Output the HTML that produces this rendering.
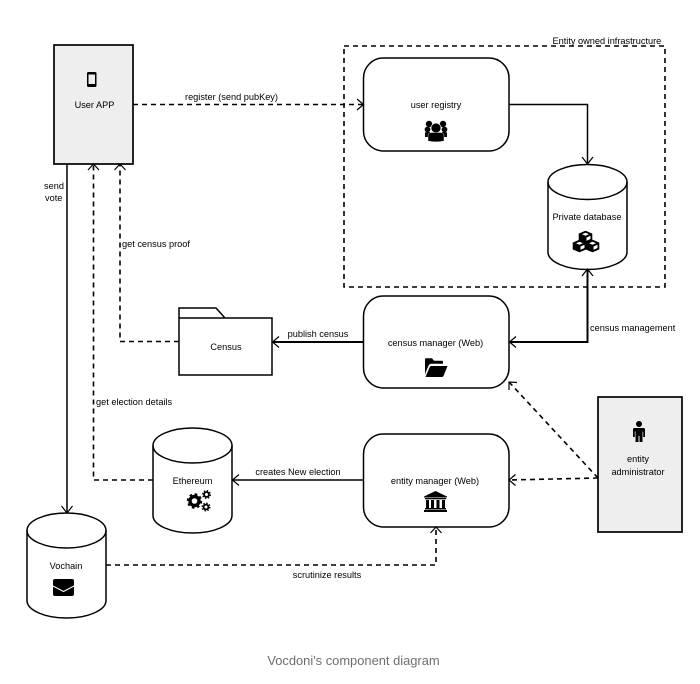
<!DOCTYPE html>
<html>
<head>
<meta charset="utf-8">
<style>
html,body{margin:0;padding:0;background:#fff;width:700px;height:684px;overflow:hidden}
svg{display:block}
text{font-family:"Liberation Sans",sans-serif;font-size:9.2px;fill:#000}
.m{text-anchor:middle}
.b{fill:none;stroke:#000;stroke-width:1.500}
.n{fill:#fff;stroke:#000;stroke-width:1.500}
.g{fill:#eee;stroke:#000;stroke-width:1.700}
.d{fill:none;stroke:#000;stroke-width:1.600;stroke-dasharray:5 4}
.a{fill:none;stroke:#000;stroke-width:1.200}
</style>
</head>
<body>
<svg width="700" height="684" viewBox="0 0 700 684" xmlns="http://www.w3.org/2000/svg">
<rect width="700" height="684" fill="#fff"/>

<!-- Boundary -->
<rect x="344" y="46" width="321" height="241" class="d"/>
<text x="552.500" y="44">Entity owned infrastructure</text>

<!-- Boxes -->
<rect x="54" y="45" width="79" height="119" class="g"/>
<rect x="598" y="397" width="84" height="135" class="g"/>
<rect x="363.500" y="58" width="145.500" height="93" rx="20" class="n"/>
<rect x="363.500" y="296" width="145.500" height="92" rx="20" class="n"/>
<rect x="363.500" y="434" width="145.500" height="93" rx="20" class="n"/>

<!-- Cylinders -->
<path class="n" d="M548 182a39.500 17.500 0 0 1 79 0v70a39.500 17.500 0 0 1-79 0z"/>
<path class="b" d="M548 182a39.500 17.500 0 0 0 79 0"/>
<path class="n" d="M153 445.500a39.500 17.500 0 0 1 79 0v70a39.500 17.500 0 0 1-79 0z"/>
<path class="b" d="M153 445.500a39.500 17.500 0 0 0 79 0"/>
<path class="n" d="M27 530.500a39.500 17.500 0 0 1 79 0v70a39.500 17.500 0 0 1-79 0z"/>
<path class="b" d="M27 530.500a39.500 17.500 0 0 0 79 0"/>

<!-- Folder -->
<path class="n" d="M179 318v-10h37l9 10"/>
<rect x="179" y="318" width="93" height="57" class="n"/>

<!-- Solid connectors -->
<path class="b" d="M509 104.500H587.500V164"/>
<path class="a" d="M582 157L587.500 164L593 157"/>
<path class="b" d="M67 164V513"/>
<path class="a" d="M61.500 506L67 513L72.500 506"/>
<path class="b" style="stroke-width:2" d="M363 342H272"/>
<path class="a" d="M279 336.500L272.500 342L279 347.500"/>
<path class="b" style="stroke-width:2" d="M587.500 269V342H509"/>
<path class="a" d="M582 276L587.500 269L593 276"/>
<path class="a" d="M516 336.500L509.500 342L516 347.500"/>
<path class="b" d="M363 480H232"/>
<path class="a" d="M239 474.500L232.500 480L239 485.500"/>

<!-- Dashed connectors -->
<path class="d" d="M133 104.500H363"/>
<path class="a" d="M357 99L363.500 104.500L357 110"/>
<path class="d" d="M179 341.500H120V164"/>
<path class="a" d="M114.500 170L120 164L125.500 170"/>
<path class="d" d="M153 480H93.500V164"/>
<path class="a" d="M88 170L93.500 164L99 170"/>
<path class="d" d="M106 565H436V527"/>
<path class="a" d="M430.500 533L436 527L441.500 533"/>
<path class="d" d="M598 478L509 480"/>
<path class="a" d="M515.500 474.500L509 480L515.500 485.500"/>
<path class="d" d="M598 478L509 382"/>
<path class="a" d="M509 390L509 382L517 382.500"/>

<!-- Labels -->
<text x="94.500" y="108" class="m">User APP</text>
<text x="231.500" y="100" class="m">register (send pubKey)</text>
<text x="44" y="189">send</text>
<text x="45" y="201">vote</text>
<text x="122" y="247">get census proof</text>
<text x="96" y="405">get election details</text>
<text x="436" y="108" class="m">user registry</text>
<text x="587" y="220" class="m">Private database</text>
<text x="226" y="350" class="m">Census</text>
<text x="318" y="337" class="m">publish census</text>
<text x="435.500" y="346" class="m">census manager (Web)</text>
<text x="590" y="331">census management</text>
<text x="435" y="484" class="m">entity manager (Web)</text>
<text x="638" y="462" class="m">entity</text>
<text x="638" y="475" class="m">administrator</text>
<text x="192.500" y="484" class="m">Ethereum</text>
<text x="298" y="475" class="m">creates New election</text>
<text x="66" y="569" class="m">Vochain</text>
<text x="327" y="578" class="m">scrutinize results</text>
<text x="353.500" y="665" class="m" style="font-size:12.900px;fill:#6f6f6f">Vocdoni's component diagram</text>

<!-- Phone icon -->
<rect x="87" y="72" width="9.500" height="15" rx="1.500" fill="#000"/>
<rect x="88.500" y="74.500" width="6.500" height="9.500" fill="#eee"/>

<!-- Users icon -->
<g fill="#000">
<circle cx="429" cy="124" r="3.200"/><circle cx="443" cy="124" r="3.200"/>
<circle cx="427.500" cy="129.500" r="2.900"/><circle cx="444.500" cy="129.500" r="2.900"/>
<path d="M425 137v-4q0-1 2-1h3v5zM447 137v-4q0-1-2-1h-3v5z"/>
<circle cx="436" cy="128" r="5" stroke="#fff" stroke-width=".7"/>
<path d="M428 141v-5q0-3.500 3.500-3.500h9q3.500 0 3.500 3.500v5q-8 1.800-16 0z" stroke="#fff" stroke-width=".4"/>
</g>

<!-- Cubes icon -->
<g fill="#000" stroke="#000" stroke-width=".6" stroke-linejoin="round">
<path d="M585.500 231l6.500 2.800v6.200l-6.500 2.800-6.500-2.800v-6.200z"/>
<path d="M579.500 240l6.500 2.800v6.400l-6.500 2.800-6.500-2.800v-6.400z"/>
<path d="M592.500 240l6.500 2.800v6.400l-6.500 2.800-6.500-2.800v-6.400z"/>
</g>
<g fill="#fff">
<path d="M585.500 232.800l3.500 1.500-3.500 1.500-3.500-1.500z"/>
<path d="M586.500 237.500l4-1.700v3.200l-4 1.800z"/>
<path d="M579.500 241.800l3.500 1.500-3.500 1.500-3.500-1.500z"/>
<path d="M580.500 246.500l4-1.700v3.200l-4 1.800z"/>
<path d="M592.500 241.800l3.500 1.500-3.500 1.500-3.500-1.500z"/>
<path d="M593.500 246.500l4-1.700v3.200l-4 1.800z"/>
</g>

<!-- Open folder icon -->
<path fill="#000" d="M425 375v-16q0-.800 1-.800h6l2 2.500h8q1 0 1 1v2h-12q-1.500 0-2.300 1.500l-3 7zM425.500 377l4-9.500q.500-1.500 2-1.500h16l-4 10q-.500 1-1.500 1z"/>

<!-- Bank icon -->
<g fill="#000">
<path d="M424 496.500l11.500-5.500 11.500 5.500v1h-23z"/>
<rect x="425" y="498" width="21" height="1.300"/>
<rect x="426" y="500" width="3" height="8"/><rect x="431" y="500" width="3" height="8"/><rect x="436.500" y="500" width="3" height="8"/><rect x="442" y="500" width="3" height="8"/>
<rect x="425" y="508" width="21" height="1.500"/><rect x="424" y="510" width="23" height="2"/>
</g>

<!-- Gears icon -->
<g fill="none" stroke="#000">
<circle cx="194.500" cy="501" r="4.500" stroke-width="3.400"/>
<circle cx="194.500" cy="501" r="6.500" stroke-width="2.400" stroke-dasharray="2.500 2.600"/>
<circle cx="206.500" cy="494.500" r="2.400" stroke-width="1.800"/>
<circle cx="206.500" cy="494.500" r="3.800" stroke-width="1.400" stroke-dasharray="1.500 1.500"/>
<circle cx="206" cy="507" r="2.400" stroke-width="1.800"/>
<circle cx="206" cy="507" r="3.800" stroke-width="1.400" stroke-dasharray="1.500 1.500"/>
</g>

<!-- Envelope icon -->
<rect x="53" y="579" width="21" height="17" rx="2" fill="#000"/>
<path d="M53 586L63.500 591.500L74 586" fill="none" stroke="#fff" stroke-width="1"/>

<!-- Person icon -->
<g fill="#000">
<circle cx="639" cy="424" r="3"/>
<path d="M634.500 428h9q1.500 0 1.500 1.500v7.500h-1.800v-5.500h-.700v10.500h-3v-6h-1v6h-3v-10.500h-.700v5.500h-1.800v-7.500q0-1.500 1.500-1.500z"/>
</g>
</svg>
</body>
</html>
